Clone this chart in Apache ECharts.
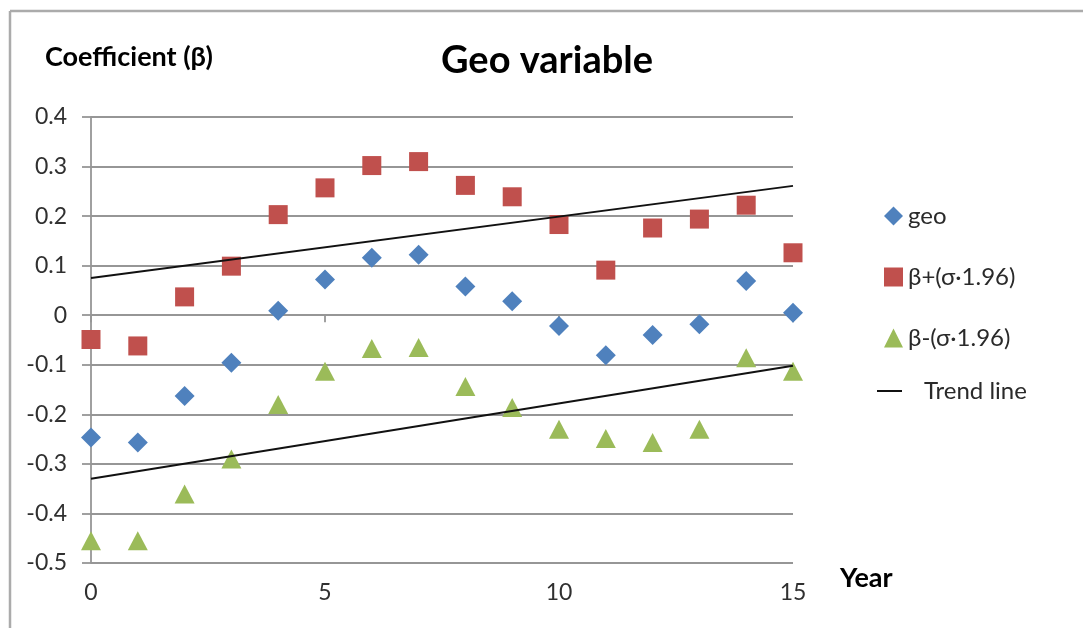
<!DOCTYPE html>
<html>
<head>
<meta charset="utf-8">
<script src="https://cdn.jsdelivr.net/npm/echarts@6/dist/echarts.min.js"></script>
<style>
html,body{margin:0;padding:0;background:#fff;}
#c{width:1083px;height:628px;}
</style>
</head>
<body>
<div id="c"></div>
<script>
const years = [0,1,2,3,4,5,6,7,8,9,10,11,12,13,14,15];
const geo = [-0.247,-0.257,-0.163,-0.096,0.009,0.072,0.116,0.122,0.058,0.028,-0.022,-0.081,-0.040,-0.018,0.069,0.005];
const betaPlus = [-0.049,-0.062,0.037,0.099,0.203,0.257,0.302,0.310,0.262,0.239,0.183,0.091,0.176,0.194,0.222,0.126];
const betaMinus = [-0.455,-0.455,-0.361,-0.290,-0.180,-0.113,-0.067,-0.065,-0.144,-0.186,-0.230,-0.249,-0.257,-0.230,-0.086,-0.113];
const trendYears = [0,15];
const trendUpper = [0.075,0.261];
const trendLower = [-0.330,-0.102];
const seriesNames = ['geo','β+(σ·1.96)','β-(σ·1.96)','Trend line'];
const titleText = 'Geo variable';
const yTitle = 'Coefficient (β)';
const xTitle = 'Year';

const pairs = (xs, ys) => xs.map((x,i)=>[x, ys[i]]);
const FONT = 'Lato';
const LBL = '#303030';
const GRID = '#969696';

const chart = echarts.init(document.getElementById('c'), null, {renderer:'canvas'});
const legendBase = (name, top, extra) => Object.assign({
  data:[name], orient:'vertical', left:884, top:top, padding:0,
  itemWidth:19, itemHeight:19, itemGap:0, selectedMode:false,
  textStyle:{fontFamily:FONT, fontSize:24, color:'#2a2a2a'}
}, extra||{});

chart.setOption({
  animation:false,
  backgroundColor:'#fff',
  grid:{left:91, right:290, top:117, bottom:65},
  xAxis:[{
    type:'value', min:0, max:15, interval:5, position:'bottom',
    axisLine:{show:false, onZero:false}, axisTick:{show:false}, splitLine:{show:false},
    axisLabel:{margin:18, fontFamily:FONT, fontSize:23, color:LBL}
  },{
    type:'value', min:0, max:15, interval:5, position:'bottom',
    axisLine:{show:true, onZero:true, onZeroAxisIndex:0, lineStyle:{color:GRID, width:1.8}},
    axisTick:{show:true, length:7, lineStyle:{color:GRID, width:1.8}},
    axisLabel:{show:false}, splitLine:{show:false}
  }],
  yAxis:{
    type:'value', min:-0.5, max:0.4, interval:0.1,
    axisLine:{show:true, lineStyle:{color:GRID, width:1.8}},
    axisTick:{show:true, length:9, lineStyle:{color:GRID, width:1.8}},
    splitLine:{show:true, lineStyle:{color:GRID, width:1.8}},
    axisLabel:{margin:24, fontFamily:FONT, fontSize:23, color:LBL,
      formatter:v=>{const r=Math.round(v*10)/10; return r===0?'0':String(r);}}
  },
  legend:[
    legendBase(seriesNames[0], 204),
    legendBase(seriesNames[1], 265),
    legendBase(seriesNames[2], 326),
    legendBase(seriesNames[3], 379, {left:877, itemWidth:25, itemHeight:2, icon:'rect',
      textStyle:{fontFamily:FONT, fontSize:24, color:'#2a2a2a', padding:[0,0,0,17]}})
  ],
  series:[
    {name:seriesNames[0], type:'scatter', data:pairs(years,geo), symbol:'diamond', symbolSize:[20,20],
     itemStyle:{color:'#4F81BD', opacity:1}},
    {name:seriesNames[1], type:'scatter', data:pairs(years,betaPlus), symbol:'rect', symbolSize:19,
     itemStyle:{color:'#C0504D', opacity:1}},
    {name:seriesNames[2], type:'scatter', data:pairs(years,betaMinus), symbol:'triangle', symbolSize:[20,19],
     itemStyle:{color:'#9BBB59', opacity:1}},
    {name:seriesNames[3], type:'line', data:pairs(trendYears,trendUpper), showSymbol:false, symbol:'none', z:5,
     lineStyle:{color:'#111', width:2}, itemStyle:{color:'#111'}},
    {name:seriesNames[3], type:'line', data:pairs(trendYears,trendLower), showSymbol:false, symbol:'none', z:5,
     lineStyle:{color:'#111', width:2}, itemStyle:{color:'#111'}}
  ],
  graphic:[
    {type:'line', shape:{x1:10, y1:11, x2:1083, y2:11}, style:{stroke:'#ababab', lineWidth:2.5}, silent:true},
    {type:'line', shape:{x1:10, y1:11, x2:10, y2:628}, style:{stroke:'#ababab', lineWidth:2.5}, silent:true},
    {type:'text', style:{text:titleText, x:547, y:61, textAlign:'center', textVerticalAlign:'middle',
      font:'bold 38px Lato', fill:'#000'}},
    {type:'text', style:{text:yTitle, x:45, y:57, textAlign:'left', textVerticalAlign:'middle',
      font:'bold 27px Lato', fill:'#000'}},
    {type:'text', style:{text:xTitle, x:840, y:578, textAlign:'left', textVerticalAlign:'middle',
      font:'bold 27px Lato', fill:'#000'}}
  ]
});
</script>
</body>
</html>
